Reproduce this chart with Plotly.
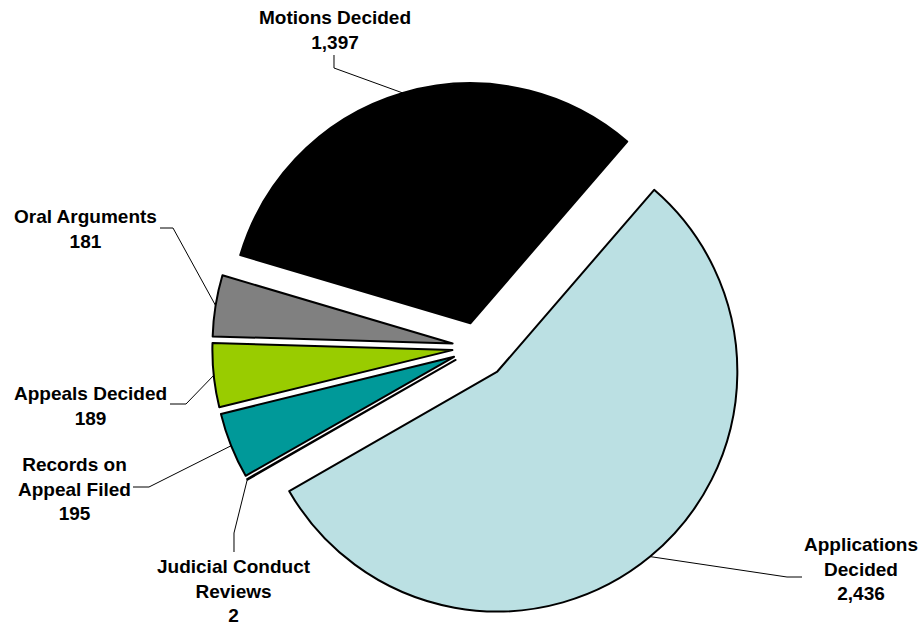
import math
import plotly.graph_objects as go

# Court workload, slices listed clockwise from the Applications slice
categories = [
    "Applications Decided",
    "Judicial Conduct Reviews",
    "Records on Appeal Filed",
    "Appeals Decided",
    "Oral Arguments",
    "Motions Decided",
]
values = [2436, 2, 195, 189, 181, 1397]
label_lines = [
    ["Applications", "Decided"],
    ["Judicial Conduct", "Reviews"],
    ["Records on", "Appeal Filed"],
    ["Appeals Decided"],
    ["Oral Arguments"],
    ["Motions Decided"],
]
colors = ["#BBE0E3", "#FFFFFF", "#009999", "#99CC00", "#808080", "#000000"]
pulls = [0.13, 0.105, 0.105, 0.105, 0.105, 0.105]

W, H = 923, 626
ROTATION = 40.8
DOMAIN_X = [0.2173, 0.8173]
DOMAIN_Y = [0.0117, 0.8782]
FONT = dict(family="Liberation Sans, Arial, sans-serif", size=19, color="#000000", weight="bold")

# label placement in pixels: text centre, knee of the leader line, and where it meets the text
label_place = {
    "Applications Decided": dict(center=(861, 569), knee=(787, 577), attach=(802, 577)),
    "Judicial Conduct Reviews": dict(center=(234, 591), knee=(234, 533), attach=(234, 552)),
    "Records on Appeal Filed": dict(center=(74, 488.5), knee=(149, 487), attach=(133, 487)),
    "Appeals Decided": dict(center=(90, 406), knee=(186, 404), attach=(170, 404)),
    "Oral Arguments": dict(center=(85, 229), knee=(173, 228), attach=(160, 228)),
    "Motions Decided": dict(center=(335, 30), knee=(334, 68), attach=(334, 55)),
}


def to_paper(px, py):
    return px / W, 1 - py / H


# same geometry plotly uses for the pie: centre, radius, pulled slice tips
box_w = W * (DOMAIN_X[1] - DOMAIN_X[0])
box_h = H * (DOMAIN_Y[1] - DOMAIN_Y[0])
radius = min(box_w, box_h) / 2 / (1 + max(pulls))
cx = W * (DOMAIN_X[0] + DOMAIN_X[1]) / 2
cy = H * (1 - DOMAIN_Y[0]) - box_h / 2
total = sum(values)

fig = go.Figure(
    go.Pie(
        labels=categories,
        values=values,
        sort=False,
        direction="clockwise",
        rotation=ROTATION,
        pull=pulls,
        marker=dict(colors=colors, line=dict(color="#000000", width=2)),
        textinfo="none",
        hoverinfo="label+value",
        showlegend=False,
        domain=dict(x=DOMAIN_X, y=DOMAIN_Y),
    )
)

shapes = []
annotations = []
cum = 0
for name, lines, v, p in zip(categories, label_lines, values, pulls):
    mid = math.radians(ROTATION + 360 * (cum + v / 2) / total)
    cum += v
    reach = radius * (1 + p)
    ex, ey = cx + reach * math.sin(mid), cy - reach * math.cos(mid)
    place = label_place[name]
    pts = [to_paper(ex, ey), to_paper(*place["knee"]), to_paper(*place["attach"])]
    path = "M " + " L ".join(f"{x:.5f},{y:.5f}" for x, y in pts)
    shapes.append(dict(type="path", xref="paper", yref="paper", path=path,
                       line=dict(color="#000000", width=1)))
    tx, ty = to_paper(*place["center"])
    text = "<br>".join(lines + [f"{v:,}"])
    annotations.append(dict(xref="paper", yref="paper", x=tx, y=ty, text=text,
                            showarrow=False, xanchor="center", yanchor="middle",
                            align="center", font=FONT))

fig.update_layout(
    width=W,
    height=H,
    margin=dict(l=0, r=0, t=0, b=0),
    paper_bgcolor="#FFFFFF",
    plot_bgcolor="#FFFFFF",
    shapes=shapes,
    annotations=annotations,
)

fig.write_html("out.html")
